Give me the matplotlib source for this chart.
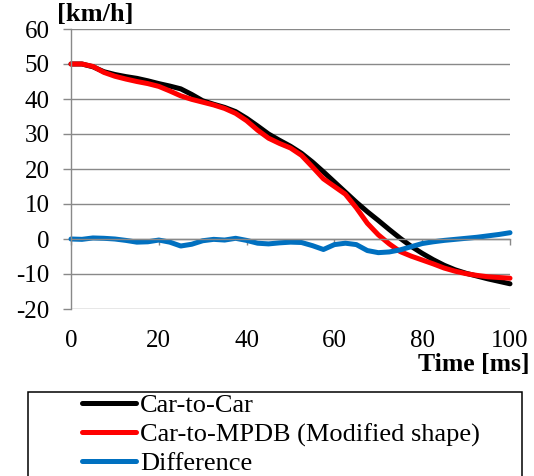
import matplotlib
matplotlib.use("Agg")
import matplotlib.pyplot as plt
from matplotlib.patches import Rectangle

plt.rcParams['font.family'] = ['Liberation Serif', 'DejaVu Serif']

time_ms = [0, 2.5, 5, 7.5, 10, 12.5, 15, 17.5, 20, 22.5, 25, 27.5, 30, 32.5, 35, 37.5,
           40, 42.5, 45, 47.5, 50, 52.5, 55, 57.5, 60, 62.5, 65, 67.5, 70, 72.5, 75,
           77.5, 80, 82.5, 85, 87.5, 90, 92.5, 95, 97.5, 100]

car_to_car = [50.0, 50.0, 49.2, 47.8, 47.0, 46.4, 45.9, 45.2, 44.4, 43.7, 42.9, 41.3,
              39.5, 38.5, 37.6, 36.4, 34.5, 32.3, 30.0, 28.2, 26.5, 24.5, 22.0, 19.2,
              16.3, 13.4, 10.5, 7.8, 5.3, 2.7, 0.2, -2.1, -4.1, -5.9, -7.5, -8.8, -9.8,
              -10.6, -11.4, -12.1, -12.8]

car_to_mpdb = [50.0, 50.0, 49.3, 47.6, 46.5, 45.7, 45.0, 44.4, 43.6, 42.3, 40.9, 39.9,
               39.1, 38.3, 37.3, 35.9, 33.8, 31.1, 28.8, 27.3, 26.0, 23.9, 20.6, 17.2,
               15.0, 12.8, 8.9, 4.5, 1.2, -1.4, -3.6, -4.9, -6.0, -7.1, -8.3, -9.2, -9.9,
               -10.4, -10.8, -11.0, -11.2]

difference = [0.0, -0.1, 0.3, 0.2, 0.0, -0.4, -0.9, -0.8, -0.3, -0.9, -2.0, -1.5, -0.5,
              -0.1, -0.3, 0.2, -0.4, -1.2, -1.4, -1.1, -0.9, -1.0, -1.9, -3.0, -1.6,
              -1.2, -1.6, -3.3, -3.9, -3.7, -3.1, -2.2, -1.3, -0.8, -0.4, -0.1, 0.2, 0.5,
              0.9, 1.3, 1.8]

series_labels = ["Car-to-Car", "Car-to-MPDB (Modified shape)", "Difference"]
series_colors = ["#000000", "#FF0000", "#0070C0"]
x_ticks = [0, 20, 40, 60, 80, 100]
y_ticks = [-20, -10, 0, 10, 20, 30, 40, 50, 60]

W, H = 534, 476
fig = plt.figure(figsize=(W / 100, H / 100), dpi=100)
ax = fig.add_axes([71 / W, 1 - 309 / H, (510 - 71) / W, (309 - 29) / H])

grid_c = "#898989"
ax.set_xlim(0, 100)
ax.set_ylim(-20, 60)
ax.set_yticks(y_ticks)
ax.set_yticklabels([str(v) for v in y_ticks])
ax.yaxis.grid(True, color=grid_c, lw=1.0)
ax.set_axisbelow(True)

for s in ["top", "right"]:
    ax.spines[s].set_visible(False)
ax.spines["left"].set_color(grid_c)
ax.spines["left"].set_linewidth(1.0)
ax.spines["bottom"].set_position(("data", 0))
ax.spines["bottom"].set_color(grid_c)
ax.spines["bottom"].set_linewidth(1.0)

ax.tick_params(axis="y", length=5.5, color=grid_c, width=1.0, labelsize=18, pad=10)
ax.set_xticks(x_ticks)
ax.tick_params(axis="x", length=4.5, color=grid_c, width=1.0, labelbottom=False)

sec = ax.secondary_xaxis(0)
sec.set_xticks(x_ticks)
sec.set_xticklabels([str(v) for v in x_ticks])
sec.spines["bottom"].set_visible(False)
sec.tick_params(axis="x", length=0, labelsize=18, pad=15)

series = [car_to_car, car_to_mpdb, difference]
handles = []
for vals, lab, col in zip(series, series_labels, series_colors):
    h, = ax.plot(time_ms, vals, color=col, lw=3.6, label=lab,
                 solid_capstyle="round", solid_joinstyle="round", clip_on=False)
    handles.append(h)

fig.text(57 / W, 1 - 15 / H, "[km/h]", fontsize=19, fontweight="bold",
         ha="left", va="center")
fig.text(529 / W, 1 - 364 / H, "Time [ms]", fontsize=18.5, fontweight="bold",
         ha="right", va="center")

# legend box
fig.patches.append(Rectangle((28 / W, -0.1), (522 - 28) / W, 0.1 + (1 - 392 / H),
                             transform=fig.transFigure, fill=False,
                             edgecolor="black", lw=1.1))
fig.legend(handles=handles, labels=series_labels, loc="upper left",
           bbox_to_anchor=(82 / W, 1 - 394 / H), frameon=False, fontsize=19,
           borderpad=0, borderaxespad=0, handlelength=2.05, handletextpad=0.15,
           labelspacing=0.2)

fig.savefig("out.png", dpi=100)
